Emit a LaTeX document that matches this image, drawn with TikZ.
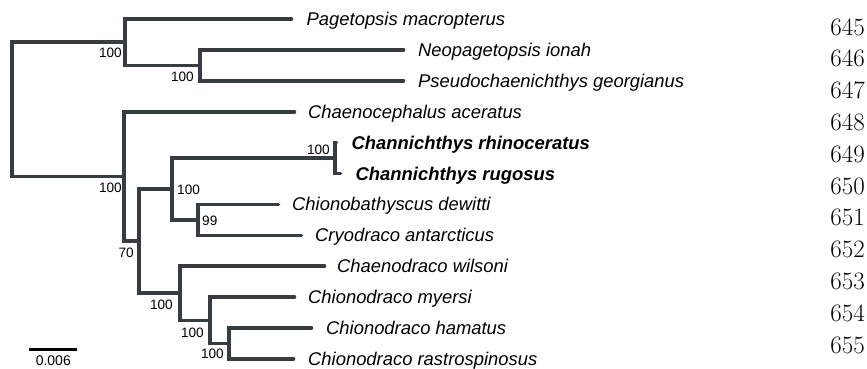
\documentclass[tikz,border=0pt]{standalone}
\usepackage{fontspec}
\newfontfamily\treefont{Liberation Sans}
\definecolor{branch}{RGB}{54,60,65}
\begin{document}
\begin{tikzpicture}[x=1pt,y=-1pt,
  edge/.style={draw=branch,line width=3.6pt,line cap=round,line join=miter},
  tip/.style={anchor=base west,inner sep=0pt,font=\treefont\itshape\fontsize{18.4}{20}\selectfont},
  boldtip/.style={anchor=base west,inner sep=0pt,font=\treefont\bfseries\itshape\fontsize{18.4}{20}\selectfont},
  boot/.style={inner sep=0pt,font=\treefont\fontsize{13.6}{15}\selectfont},
  lineno/.style={anchor=east,inner sep=0pt,font=\fontsize{25}{28}\selectfont}]
\useasboundingbox (0,0) rectangle (867,368);
% tips
\coordinate (t1) at (291.5,19);
\coordinate (t2) at (403.5,49.9);
\coordinate (t3) at (403.5,80.8);
\coordinate (t4) at (294.5,111.7);
\coordinate (t5) at (336.5,142.6);
\coordinate (t6) at (340.5,173.5);
\coordinate (t7) at (278.5,204.4);
\coordinate (t8) at (301.5,235.3);
\coordinate (t9) at (324.5,266.2);
\coordinate (t10) at (294.5,297.1);
\coordinate (t11) at (311.5,328);
\coordinate (t12) at (293.5,358.9);
% internal nodes
\coordinate (R) at (12,109.3);
\coordinate (A) at (125,42.2);
\coordinate (B) at (200,65.35);
\coordinate (C) at (124,176.4);
\coordinate (D) at (139,241.1);
\coordinate (E) at (172,188.95);
\coordinate (F) at (335,158.05);
\coordinate (G) at (198,219.85);
\coordinate (H) at (180,293.25);
\coordinate (I) at (210,320.3);
\coordinate (J) at (229,343.45);
% edges
\draw[edge] (R) |- (A); \draw[edge] (R) |- (C);
\draw[edge] (A) |- (t1); \draw[edge] (A) |- (B);
\draw[edge] (B) |- (t2); \draw[edge] (B) |- (t3);
\draw[edge] (C) |- (t4); \draw[edge] (C) |- (D);
\draw[edge] (D) |- (E); \draw[edge] (D) |- (H);
\draw[edge] (E) |- (F); \draw[edge] (E) |- (G);
\draw[edge] (F) |- (t5); \draw[edge] (F) |- (t6);
\draw[edge] (G) |- (t7); \draw[edge] (G) |- (t8);
\draw[edge] (H) |- (t9); \draw[edge] (H) |- (I);
\draw[edge] (I) |- (t10); \draw[edge] (I) |- (J);
\draw[edge] (J) |- (t11); \draw[edge] (J) |- (t12);
% tip labels
\node[tip] (l1) at ([xshift=15pt,yshift=-6.5pt]t1) {Pagetopsis macropterus};
\node[tip] (l2) at ([xshift=14.5pt,yshift=-6.5pt]t2) {Neopagetopsis ionah};
\node[tip] (l3) at ([xshift=14.5pt,yshift=-6.5pt]t3) {Pseudochaenichthys georgianus};
\node[tip] (l4) at ([xshift=13.5pt,yshift=-6.5pt]t4) {Chaenocephalus aceratus};
\node[boldtip] (l5) at ([xshift=15pt,yshift=-6.5pt]t5) {Channichthys rhinoceratus};
\node[boldtip] (l6) at ([xshift=15pt,yshift=-6.5pt]t6) {Channichthys rugosus};
\node[tip] (l7) at ([xshift=13.5pt,yshift=-6.5pt]t7) {Chionobathyscus dewitti};
\node[tip] (l8) at ([xshift=13.5pt,yshift=-6.5pt]t8) {Cryodraco antarcticus};
\node[tip] (l9) at ([xshift=12.5pt,yshift=-6.5pt]t9) {Chaenodraco wilsoni};
\node[tip] (l10) at ([xshift=13.5pt,yshift=-6.5pt]t10) {Chionodraco myersi};
\node[tip] (l11) at ([xshift=14.5pt,yshift=-6.5pt]t11) {Chionodraco hamatus};
\node[tip] (l12) at ([xshift=14.5pt,yshift=-6.5pt]t12) {Chionodraco rastrospinosus};
% bootstrap values
\node[boot,anchor=north east] (bA) at ([xshift=-3pt,yshift=-6pt]A) {100};
\node[boot,anchor=north east] (bB) at ([xshift=-6pt,yshift=-6.5pt]B) {100};
\node[boot,anchor=north east] (bC) at ([xshift=-2pt,yshift=-6pt]C) {100};
\node[boot,anchor=north east] (bD) at ([xshift=-5pt,yshift=-7pt]D) {70};
\node[boot,anchor=west] (bE) at ([xshift=5pt,yshift=-1pt]E) {100};
\node[boot,anchor=south east] (bF) at ([xshift=-5pt,yshift=3pt]F) {100};
\node[boot,anchor=west] (bG) at ([xshift=4pt,yshift=-1pt]G) {99};
\node[boot,anchor=north east] (bH) at ([xshift=-7pt,yshift=-7pt]H) {100};
\node[boot,anchor=north east] (bI) at ([xshift=-6pt,yshift=-7pt]I) {100};
\node[boot,anchor=north east] (bJ) at ([xshift=-5pt,yshift=-5pt]J) {100};
% scale bar
\coordinate (s1) at (29.3,349.5);
\coordinate (s2) at (77.3,349.5);
\draw[draw=black,line width=2.3pt] (s1) -- (s2);
\node[boot,anchor=north,font=\treefont\fontsize{14}{16}\selectfont] (sl) at (53.3,356) {0.006};
% line numbers
\foreach \n [count=\i from 0] in {645,...,655} {
  \node[lineno] (n\n) at (865,{27+31.8*\i}) {\n};
}
\end{tikzpicture}
\end{document}
